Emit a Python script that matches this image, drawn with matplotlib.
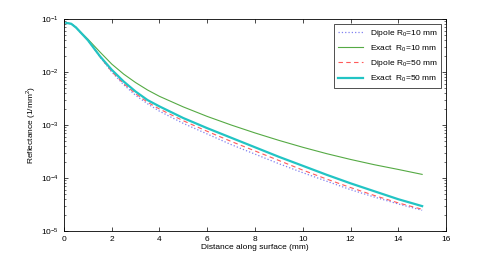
import matplotlib
matplotlib.use("Agg")
import matplotlib.pyplot as plt
from matplotlib.ticker import LogLocator, NullFormatter

plt.rcParams['font.family'] = ['Liberation Sans', 'DejaVu Sans']
plt.rcParams['mathtext.fontset'] = 'custom'
plt.rcParams['mathtext.rm'] = 'Liberation Sans'

# distance along surface (mm)
dist = [0.1, 0.3, 0.5, 0.75, 1, 1.25, 1.5, 2, 2.5, 3, 3.5, 4, 5, 6, 7, 8, 9,
        10, 11, 12, 13, 14, 15]

# reflectance values (1/mm^2)
dipole_10 = [8.41e-2, 8.13e-2, 6.92e-2, 5.25e-2, 3.98e-2, 2.82e-2, 1.95e-2, 1.00e-2,
             5.75e-3, 3.63e-3, 2.51e-3, 1.82e-3, 1.07e-3, 6.76e-4, 4.27e-4, 2.82e-4,
             1.86e-4, 1.26e-4, 8.71e-5, 6.03e-5, 4.37e-5, 3.24e-5, 2.46e-5]
exact_10 = [8.41e-2, 8.13e-2, 7.00e-2, 5.37e-2, 4.17e-2, 3.16e-2, 2.40e-2, 1.41e-2,
            9.12e-3, 6.31e-3, 4.57e-3, 3.47e-3, 2.19e-3, 1.45e-3, 1.00e-3, 7.08e-4,
            5.13e-4, 3.80e-4, 2.88e-4, 2.24e-4, 1.78e-4, 1.45e-4, 1.17e-4]
dipole_50 = [8.41e-2, 8.13e-2, 6.92e-2, 5.25e-2, 3.98e-2, 2.82e-2, 1.95e-2, 1.02e-2,
             6.03e-3, 3.89e-3, 2.69e-3, 2.00e-3, 1.20e-3, 7.59e-4, 4.90e-4, 3.24e-4,
             2.14e-4, 1.41e-4, 9.55e-5, 6.61e-5, 4.68e-5, 3.39e-5, 2.57e-5]
exact_50 = [8.41e-2, 8.13e-2, 6.92e-2, 5.25e-2, 3.98e-2, 2.82e-2, 2.00e-2, 1.10e-2,
            6.61e-3, 4.27e-3, 2.95e-3, 2.24e-3, 1.35e-3, 8.71e-4, 5.75e-4, 3.80e-4,
            2.51e-4, 1.70e-4, 1.15e-4, 7.94e-5, 5.62e-5, 3.98e-5, 2.95e-5]

labels = ['Dipole R$_0$=10 mm', 'Exact  R$_0$=10 mm',
          'Dipole R$_0$=50 mm', 'Exact  R$_0$=50 mm']

fig = plt.figure(figsize=(4.93, 2.60), dpi=100)
ax = fig.add_axes([0.1298, 0.1115, 0.7749, 0.8155])

ax.semilogy(dist, dipole_10, ':', color='#8080f0', lw=0.9, label=labels[0])
ax.semilogy(dist, exact_10, '-', color='#55aa44', lw=0.8, label=labels[1])
ax.semilogy(dist, dipole_50, '--', color='#ff5a5a', lw=0.8, dashes=(4, 3), label=labels[2])
ax.semilogy(dist, exact_50, '-', color='#22c4c4', lw=1.6, label=labels[3])

ax.set_xlim(0, 16)
ax.set_ylim(1e-5, 1e-1)
ax.set_xticks(range(0, 17, 2))
ax.yaxis.set_major_locator(LogLocator(base=10, numticks=10))
ax.yaxis.set_minor_locator(LogLocator(base=10, subs=range(2, 10), numticks=10))
ax.yaxis.set_minor_formatter(NullFormatter())

ax.tick_params(which='both', direction='in', top=True, right=True, labelsize=6)
ax.tick_params(which='major', length=3, width=0.5)
ax.tick_params(which='minor', length=1.6, width=0.4)
for s in ax.spines.values():
    s.set_linewidth(0.6)

ax.set_xlabel('Distance along surface (mm)', fontsize=6, labelpad=1)
ax.set_ylabel('Reflectance (1/mm$^2$)', fontsize=6, labelpad=2)

leg = ax.legend(loc='upper right', fontsize=6, frameon=True, fancybox=False,
                edgecolor='black', handlelength=3.0, borderpad=0.45,
                labelspacing=0.55, borderaxespad=0.6)
leg.get_frame().set_linewidth(0.6)

fig.savefig('out.png', dpi=100)
